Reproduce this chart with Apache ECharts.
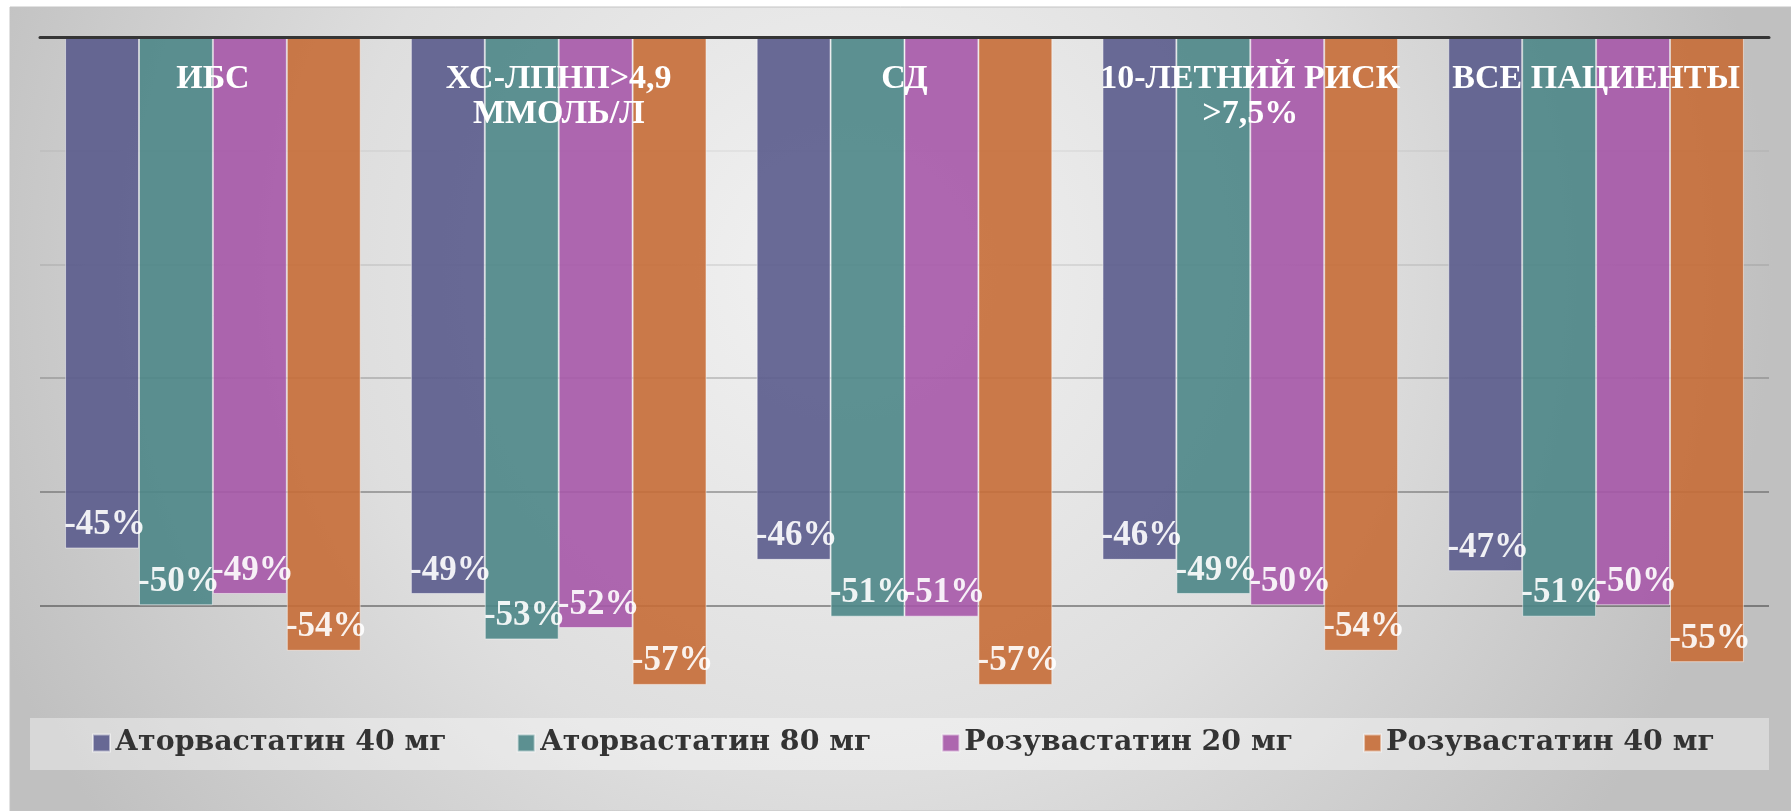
<!DOCTYPE html>
<html>
<head>
<meta charset="utf-8">
<script src="https://cdn.jsdelivr.net/npm/echarts@6/dist/echarts.min.js"></script>
<style>
  html, body { margin: 0; padding: 0; background: #ffffff; }
  #chart { width: 1791px; height: 811px; }
</style>
</head>
<body>
<div id="chart"></div>
<script>
// Categories of patients
const categories = [
  'ИБС',
  'ХС-ЛПНП>4,9\nММОЛЬ/Л',
  'СД',
  '10-ЛЕТНИЙ РИСК\n>7,5%',
  'ВСЕ ПАЦИЕНТЫ'
];

// LDL-C change, % (per treatment arm)
const atorva40 = [-45, -49, -46, -46, -47];
const atorva80 = [-50, -53, -51, -49, -51];
const rosuva20 = [-49, -52, -51, -50, -50];
const rosuva40 = [-54, -57, -57, -54, -55];

const seriesNames = [
  'Аторвастатин 40 мг',
  'Аторвастатин 80 мг',
  'Розувастатин 20 мг',
  'Розувастатин 40 мг'
];
const seriesData = [atorva40, atorva80, rosuva20, rosuva40];
const seriesColors = ['#5a5b8c', '#4d8687', '#a658a8', '#c66d37'];

const FONT = '"Liberation Serif", serif';
const LEGEND_FONT = '"DejaVu Serif", serif';

const chart = echarts.init(document.getElementById('chart'), null, { renderer: 'canvas' });

const series = seriesData.map((values, i) => ({
  name: seriesNames[i],
  type: 'bar',
  data: values,
  barGap: '0%',
  barCategoryGap: '14.5%',
  itemStyle: {
    color: seriesColors[i],
    opacity: 0.9,
    borderColor: 'rgba(255,255,255,0.55)',
    borderWidth: 1
  },
  label: {
    show: true,
    position: 'insideBottom',
    distance: 6,
    offset: [3, 0],
    formatter: '{c}%',
    color: '#ffffff',
    fontFamily: FONT,
    fontWeight: 'bold',
    fontSize: 35
  }
}));

chart.setOption({
  animation: false,
  backgroundColor: '#ffffff',
  graphic: [
    {
      type: 'rect',
      z: -10,
      silent: true,
      shape: { x: 10, y: 7, width: 1781, height: 804 },
      style: {
        fill: {
          type: 'radial', x: 0.47, y: 0.33, r: 1.15,
          colorStops: [
            { offset: 0, color: '#f2f2f2' },
            { offset: 0.55, color: '#dedede' },
            { offset: 1, color: '#c0c0c0' }
          ]
        },
        stroke: '#c4c4c4',
        lineWidth: 1
      }
    },
    {
      type: 'rect',
      z: -5,
      silent: true,
      shape: { x: 30, y: 718, width: 1739, height: 52 },
      style: { fill: 'rgba(255,255,255,0.38)' }
    }
  ],
  grid: { left: 40, right: 22, top: 37, bottom: 92 },
  legend: {
    data: seriesNames,
    left: 92,
    top: 729,
    padding: 0,
    icon: 'rect',
    itemWidth: 17,
    itemHeight: 17,
    itemGap: 70,
    textStyle: {
      fontFamily: LEGEND_FONT,
      fontWeight: 'bold',
      fontSize: 28.4,
      color: '#333333'
    }
  },
  xAxis: {
    type: 'category',
    position: 'top',
    data: categories,
    z: 10,
    axisLine: { show: true, lineStyle: { color: '#353535', width: 3 } },
    axisTick: { show: false },
    splitLine: { show: false },
    axisLabel: {
      inside: true,
      interval: 0,
      margin: 25,
      color: '#ffffff',
      fontFamily: FONT,
      fontWeight: 'bold',
      fontSize: 34,
      lineHeight: 35
    }
  },
  yAxis: {
    type: 'value',
    min: -60,
    max: 0,
    interval: 10,
    axisLine: { show: false },
    axisTick: { show: false },
    axisLabel: { show: false },
    splitLine: {
      show: true,
      lineStyle: {
        width: 2,
        // -60, -50, -40, -30, -20, -10, 0
        color: [
          'rgba(0,0,0,0)',
          'rgba(0,0,0,0.36)',
          'rgba(0,0,0,0.28)',
          'rgba(0,0,0,0.17)',
          'rgba(0,0,0,0.08)',
          'rgba(0,0,0,0.04)',
          'rgba(0,0,0,0)'
        ]
      }
    }
  },
  series: series
});
</script>
</body>
</html>
